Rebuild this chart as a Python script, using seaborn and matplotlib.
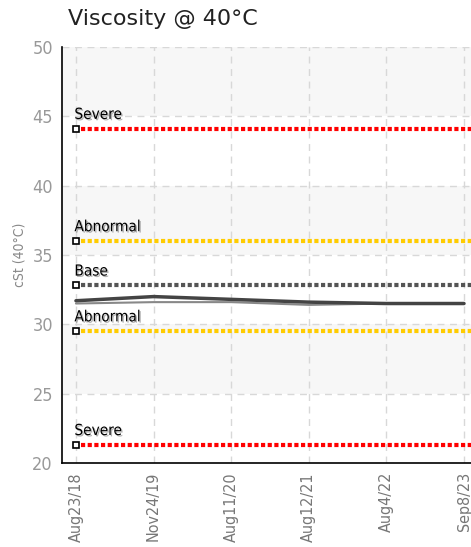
import numpy as np
import pandas as pd
import matplotlib
matplotlib.use('Agg')
import matplotlib.pyplot as plt
import seaborn as sns
import matplotlib.patheffects as pe

dates = ['Aug23/18', 'Nov24/19', 'Aug11/20', 'Aug12/21', 'Aug4/22', 'Sep8/23']
visc_main = [31.7, 32.0, 31.8, 31.6, 31.5, 31.5]
visc_low = [31.5, 31.6, 31.6, 31.4, 31.5, 31.5]

limit_names = ['Severe', 'Abnormal', 'Base', 'Abnormal', 'Severe']
limit_values = [44.1, 36.0, 32.8, 29.5, 21.3]
limit_colors = ['#ff0000', '#ffcc00', '#555555', '#ffcc00', '#ff0000']

sns.set_style('white')
plt.rcParams['font.family'] = ['DejaVu Sans']
plt.rcParams['font.stretch'] = 'condensed'

fig = plt.figure(figsize=(4.71, 5.47), dpi=100)
ax = fig.add_axes([0.1316, 0.1536, 0.8684, 0.7605])

# alternating background bands
for lo in range(20, 50, 5):
    if (lo // 5) % 2 == 1:
        ax.axhspan(lo, lo + 5, color='#f7f7f7', zorder=0, lw=0)

df = pd.DataFrame({'x': range(len(dates)), 'main': visc_main, 'low': visc_low})
sns.lineplot(data=df, x='x', y='low', ax=ax, color='#888888', lw=1.5, zorder=3)
sns.lineplot(data=df, x='x', y='main', ax=ax, color='#444444', lw=2.5, zorder=4)

x_end = len(dates) - 1 + 0.09
for name, val, col in zip(limit_names, limit_values, limit_colors):
    ax.plot([0.06, x_end], [val, val], color=col, lw=3, ls=(0, (1, 0.6)), zorder=5,
            solid_capstyle='butt', dash_capstyle='butt')
    ax.plot([0], [val], marker='s', ms=5, mfc='white', mec='black', mew=1.2, zorder=6,
            clip_on=False)
    ax.text(-0.02, val + 0.5, name, fontsize=11, color='black', ha='left', va='bottom',
            zorder=7, path_effects=[pe.withSimplePatchShadow(offset=(1, -1), alpha=0.3)])

ax.set_xlim(-0.18, x_end)
ax.set_ylim(20, 50)
ax.set_xticks(range(len(dates)))
ax.set_xticklabels(dates, rotation=90, fontsize=11.5, color='#777777')
ax.set_yticks(range(20, 51, 5))
ax.set_yticklabels([str(v) for v in range(20, 51, 5)], fontsize=13, color='#999999')
ax.tick_params(axis='both', direction='inout', length=6, width=1.2, colors='black',
               labelcolor='#999999')
ax.tick_params(axis='x', labelcolor='#777777')

ax.grid(True, ls=(0, (5, 4)), color='#d8d8d8', lw=1)
ax.set_axisbelow(True)
for s in ['top', 'right']:
    ax.spines[s].set_visible(False)
for s in ['left', 'bottom']:
    ax.spines[s].set_color('black')
    ax.spines[s].set_linewidth(1.2)

ax.set_xlabel('')
ax.set_ylabel('cSt (40°C)', fontsize=10, color='#888888')
fig.text(0.145, 0.965, 'Viscosity @ 40°C', fontsize=16, color='#222222',
         ha='left', va='center', fontstretch='normal')

fig.savefig('out.png', dpi=100)
